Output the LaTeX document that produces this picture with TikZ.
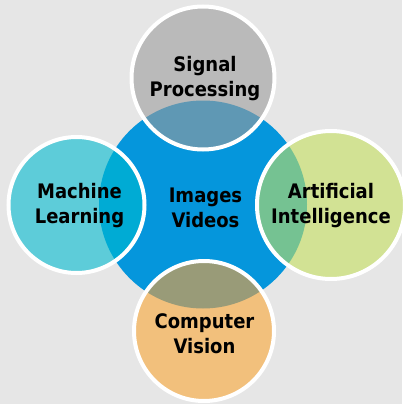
\documentclass[tikz,border=0pt]{standalone}
\usepackage{fontspec}
\setmainfont{DejaVu Sans Condensed}
\definecolor{bgc}{HTML}{E6E6E6}
\definecolor{hub}{HTML}{0596DC}
\definecolor{spA}{HTML}{BABABA}\definecolor{spB}{HTML}{5F98B4}
\definecolor{mlA}{HTML}{5DCCD9}\definecolor{mlB}{HTML}{00ABD4}
\definecolor{aiA}{HTML}{D2E294}\definecolor{aiB}{HTML}{75C292}
\definecolor{cvA}{HTML}{F2C07C}\definecolor{cvB}{HTML}{999B78}
\tikzset{
  lbl/.style={font=\bfseries\fontsize{20}{25}\selectfont, align=center, inner sep=0pt, text=black},
  ring/.style={draw=white, line width=4pt}
}
\newcommand{\satellite}[5]{% x,y,r,alone,overlap
  \fill[#4] (#1,#2) circle[radius=#3pt];
  \begin{scope}
    \clip (#1,#2) circle[radius=#3pt];
    \fill[#5] (hubc) circle[radius=104pt];
  \end{scope}
  \draw[ring] (#1,#2) circle[radius=#3pt];
}
\begin{document}
\begin{tikzpicture}[x=1pt,y=-1pt]
\fill[bgc] (0,0) rectangle (402,404);
\useasboundingbox (0,0) rectangle (402,404);
\coordinate (hubc) at (203,204.5);
\fill[hub] (hubc) circle[radius=104pt];
\satellite{203}{78}{71.5}{spA}{spB}
\satellite{76.5}{205}{68}{mlA}{mlB}
\satellite{331}{205}{74}{aiA}{aiB}
\satellite{204}{331}{70}{cvA}{cvB}
\node[lbl] (sp) at (205,79) {Signal\\Processing};
\node[lbl] (ml) at (79.5,206) {Machine\\Learning};
\node[lbl] (iv) at (205.5,208) {Images\\Videos};
\node[lbl] (ai) at (331,206) {Artificial\\Intelligence};
\node[lbl] (cv) at (204.5,334) {Computer\\Vision};
\end{tikzpicture}
\end{document}
